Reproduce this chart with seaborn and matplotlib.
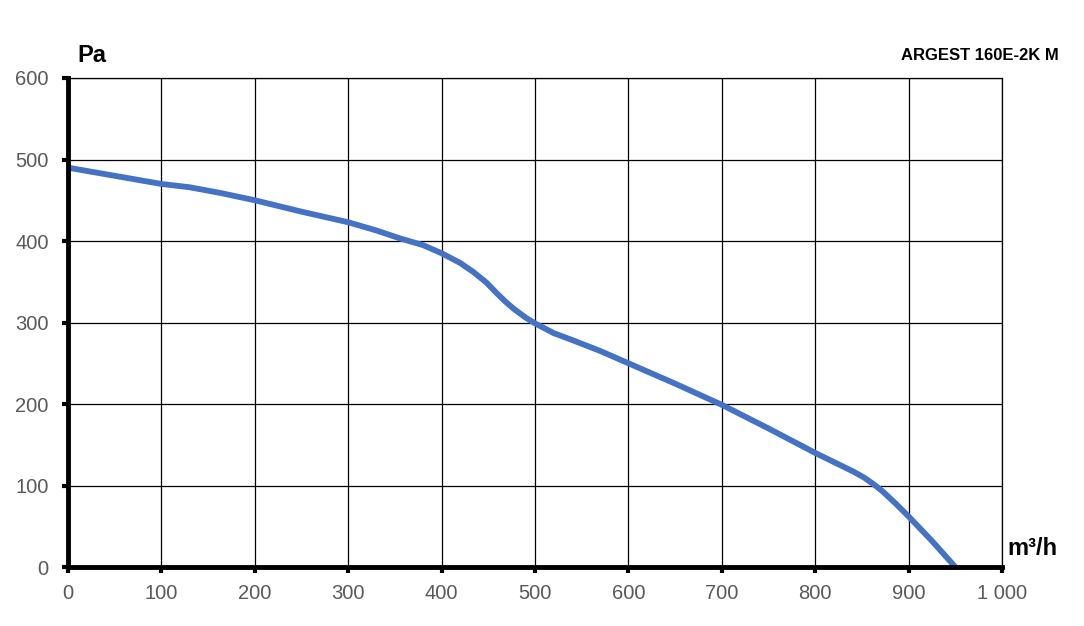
import matplotlib
matplotlib.use("Agg")
import matplotlib.pyplot as plt
import seaborn as sns
import pandas as pd
from matplotlib.ticker import FuncFormatter

# fan curve
flow = [0, 50, 100, 130, 163, 200, 250, 300, 330, 356, 380, 400, 420, 434, 448,
        459, 468, 477, 490, 500, 520, 541, 570, 600, 650, 700, 750, 800,
        825, 841, 852, 862, 872, 886, 900, 925, 950]
pressure = [490, 480, 470, 466, 459, 450, 436, 423, 413, 403, 395, 385, 373, 362, 349,
            336, 326, 317, 306, 299, 287, 278, 265, 250, 225, 199, 170, 140,
            126, 117, 110, 102, 93, 78, 62, 32, 0]
x_ticks = [0, 100, 200, 300, 400, 500, 600, 700, 800, 900, 1000]
y_ticks = [0, 100, 200, 300, 400, 500, 600]
title = "ARGEST 160E-2K M"

sns.set_style("white")
plt.rcParams['font.family'] = ['Liberation Sans', 'DejaVu Sans']

df = pd.DataFrame({"flow": flow, "pressure": pressure})

fig = plt.figure(figsize=(10.84, 6.26), dpi=100)
ax = fig.add_axes([0.0627, 0.0942, 0.8617, 0.7812])

ax.grid(True, color="black", linewidth=0.9)
ax.set_axisbelow(True)
sns.lineplot(data=df, x="flow", y="pressure", ax=ax, color="#4472C4",
             linewidth=4.2, sort=False)

ax.set_xlim(0, 1000)
ax.set_ylim(0, 600)
ax.set_xticks(x_ticks)
ax.set_yticks(y_ticks)
ax.xaxis.set_major_formatter(FuncFormatter(lambda v, p: f"{int(v):,}".replace(",", " ")))
ax.tick_params(axis="both", colors="black", labelcolor="#595959", labelsize=14.5,
               length=4, width=3, direction="out", bottom=True, left=True)
ax.tick_params(axis="y", pad=10)
ax.tick_params(axis="x", pad=8)
ax.set_xlabel("")
ax.set_ylabel("")

for side in ["top", "right"]:
    ax.spines[side].set_color("black")
    ax.spines[side].set_linewidth(0.9)
for side in ["left", "bottom"]:
    ax.spines[side].set_color("black")
    ax.spines[side].set_linewidth(3.5)

fig.text(0.071, 0.893, "Pa", fontsize=17, fontweight="bold", color="black",
         ha="left", va="bottom")
fig.text(0.977, 0.900, title, fontsize=12, fontweight="bold", color="black",
         ha="right", va="bottom")
fig.text(0.929, 0.105, "m³/h", fontsize=17, fontweight="bold", color="black",
         ha="left", va="bottom")

fig.savefig("out.png", dpi=100)
